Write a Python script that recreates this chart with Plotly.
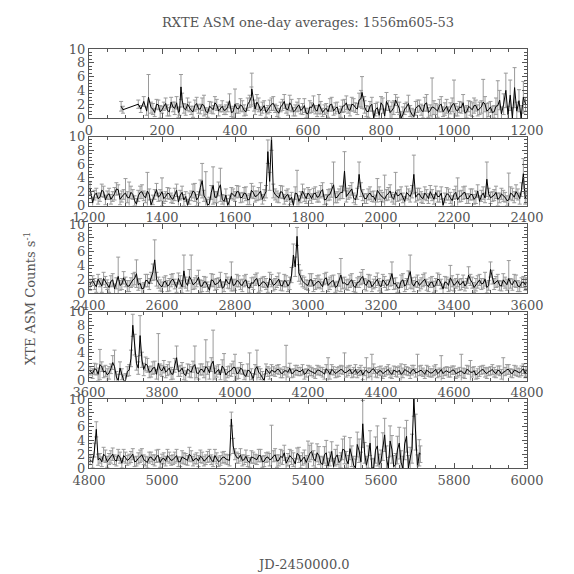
import plotly.graph_objects as go

# ---------------- data (JD-2450000, ASM rate, error) ----------------
# Panel 1
d1 = [88, 93, 135, 142, 150, 158, 163, 170, 180, 190, 200, 210, 220, 230, 240, 248, 252, 260, 270, 280,
      290, 300, 310, 320, 330, 340, 350, 360, 370, 380, 390, 400, 410, 420, 430, 440, 446, 452, 460, 470,
      480, 490, 500, 510, 520, 530, 540, 550, 560, 570, 580, 590, 600, 610, 620, 630, 640, 650, 660, 670,
      680, 690, 700, 710, 720, 730, 740, 748, 754, 760, 770, 780, 790, 800, 810, 820, 830, 840, 850, 860,
      870, 880, 890, 900, 910, 920, 930, 940, 950, 960, 970, 980, 990, 1000, 1010, 1020, 1030, 1040, 1050, 1060,
      1070, 1080, 1090, 1100, 1110, 1120, 1130, 1136, 1142, 1148, 1154, 1160, 1166, 1172, 1178, 1184, 1190, 1196]
r1 = [1.7, 1.2, 2.0, 1.3, 2.4, 1.0, 3.0, 1.5, 0.8, 1.9,
      1.2, 2.1, 0.9, 1.6, 2.2, 1.0, 4.5, 1.4, 2.0, 1.1,
      1.8, 1.3, 2.0, 1.0, 1.7, 1.2, 1.9, 1.4, 1.1, 1.6,
      0.8, 2.0, 1.3, 1.7, 0.9, 2.4, 4.2, 1.8, 2.3, 1.0,
      1.8, 1.2, 2.0, 1.4, 0.7, 1.9, 1.3, 2.2, 0.9, 1.6,
      1.1, 1.8, 0.6, 1.5, 1.2, 2.0, 0.8, 1.4, 1.9, 1.0,
      1.6, 0.9, 1.8, 1.3, 2.0, 1.5, 2.6, 3.7, 2.2, 1.0,
      1.7, 0.0, 1.5, 2.2, 0.3, 1.8, 1.1, 2.6, 1.4, 0.5,
      1.6, 1.0, 0.2, 1.7, 1.2, 2.0, 0.8, 1.6, 1.3, 1.8,
      0.9, 1.7, 1.4, 2.1, 1.0, 1.5, 0.7, 1.7, 1.2, 1.8,
      1.4, 2.3, 1.0, 1.6, 0.9, 1.8, 0.6, 2.0, 4.0, 0.5,
      3.3, 0.0, 4.4, 1.0, 2.5, 0.0, 3.0, 2.0]
e1 = [0.7, 0.5, 0.6, 0.5, 0.7, 0.6, 3.3, 0.8, 0.6, 0.7,
      0.5, 0.8, 0.6, 0.7, 0.9, 0.6, 1.8, 0.7, 0.9, 0.6,
      0.8, 0.6, 0.9, 0.5, 0.7, 0.6, 0.8, 0.5, 0.6, 0.7,
      0.6, 2.2, 0.6, 0.8, 0.5, 0.9, 2.3, 0.8, 1.1, 0.6,
      0.7, 0.6, 0.9, 0.6, 0.7, 0.8, 0.6, 1.1, 0.6, 0.7,
      0.5, 1.0, 0.8, 0.7, 0.6, 1.4, 0.6, 0.7, 0.9, 0.6,
      0.7, 0.8, 0.9, 0.6, 1.0, 0.7, 1.0, 2.3, 0.9, 0.8,
      0.7, 1.0, 0.8, 0.9, 1.0, 0.7, 1.2, 0.8, 0.9, 1.1,
      0.7, 0.8, 1.0, 0.9, 0.8, 1.0, 0.7, 4.2, 0.8, 0.9,
      0.7, 1.0, 0.8, 3.4, 0.7, 0.8, 0.9, 0.8, 1.0, 0.8,
      0.9, 3.3, 1.1, 0.8, 0.9, 3.6, 1.0, 1.5, 2.5, 1.2,
      2.2, 1.5, 2.9, 1.3, 1.6, 1.8, 2.3, 1.0]
d1b = [175, 185, 195, 205, 215, 225, 235, 245, 255, 265,
       275, 285, 295, 305, 315, 325, 335, 345, 355, 365,
       375, 385, 395, 405, 415, 425, 435, 445, 455, 465,
       475, 485, 495, 505, 515, 525, 535, 545, 555, 565,
       575, 585, 595, 605, 615, 625, 635, 645, 655, 665,
       675, 685, 695, 705, 715, 725, 735, 745, 755, 765,
       775, 785, 795, 805, 815, 825, 835, 845, 855, 865,
       875, 885, 895, 905, 915, 925, 935, 945, 955, 965,
       975, 985, 995, 1005, 1015, 1025, 1035, 1045, 1055, 1065,
       1075, 1085, 1095, 1105, 1115, 1125]
r1b = [1.3, 2.0, 0.9, 1.7, 1.1, 2.3, 1.4, 0.8, 2.6, 1.2,
       1.6, 0.9, 2.1, 1.3, 1.8, 0.7, 1.5, 2.2, 1.0, 1.7,
       1.2, 2.5, 0.9, 1.4, 1.9, 1.1, 2.0, 3.1, 1.3, 1.9,
       1.5, 0.8, 1.7, 2.1, 1.0, 1.6, 2.4, 1.2, 1.8, 1.1,
       1.9, 1.3, 0.7, 1.6, 2.1, 1.0, 1.5, 1.2, 0.9, 2.0,
       1.4, 0.6, 1.7, 2.2, 1.1, 1.9, 1.3, 2.8, 1.6, 0.9,
       2.0, 1.2, 0.4, 1.8, 2.4, 0.8, 1.5, 1.9, 0.0, 1.3,
       2.1, 0.5, 1.4, 1.8, 0.9, 2.2, 1.1, 1.5, 1.0, 2.0,
       1.3, 0.8, 1.9, 1.2, 1.6, 2.2, 0.9, 1.4, 1.8, 1.1,
       1.6, 2.0, 1.2, 0.8, 1.7, 2.6]
e1b = [0.8, 0.7, 0.9, 0.6, 0.8, 0.7, 0.9, 0.7, 1.0, 0.8,
       0.7, 0.8, 0.9, 0.7, 1.5, 0.6, 0.8, 0.9, 0.7, 0.8,
       0.7, 1.0, 0.8, 0.7, 0.9, 0.8, 0.9, 1.4, 0.8, 1.0,
       0.8, 0.7, 0.9, 1.0, 0.8, 0.7, 1.0, 0.8, 0.9, 0.8,
       0.9, 0.8, 0.7, 0.9, 1.1, 0.8, 0.9, 0.7, 0.8, 1.0,
       0.8, 0.7, 0.9, 1.0, 0.8, 0.9, 0.8, 1.2, 0.9, 0.8,
       1.0, 0.9, 0.8, 1.1, 1.3, 0.9, 1.0, 1.1, 0.9, 0.8,
       1.2, 0.9, 1.0, 0.8, 0.9, 1.2, 0.8, 1.0, 0.9, 1.1,
       0.9, 0.8, 1.0, 0.9, 0.8, 1.2, 0.9, 1.0, 1.1, 0.8,
       0.9, 1.1, 1.0, 0.9, 1.2, 1.4]

# Panel 2
d2 = [1203,
      1210, 1220, 1230, 1240, 1250, 1260, 1270, 1280, 1290, 1300,
      1310, 1320, 1330, 1340, 1350, 1360, 1370, 1380, 1390, 1400,
      1410, 1420, 1430, 1440, 1450, 1460, 1470, 1480, 1490, 1500,
      1510, 1520, 1530, 1540, 1550, 1560, 1570, 1580, 1590, 1600,
      1610, 1620, 1630, 1640, 1650, 1660, 1670, 1680, 1690, 1700,
      1710, 1720, 1730, 1740, 1750, 1760, 1770, 1780, 1790, 1800,
      1810, 1820, 1830, 1840, 1850, 1860, 1870, 1880, 1890, 1900,
      1910, 1920, 1930, 1940, 1950, 1960, 1970, 1980, 1990, 2000,
      2010, 2020, 2030, 2040, 2050, 2060, 2070, 2080, 2090, 2100,
      2110, 2120, 2130, 2140, 2150, 2160, 2170, 2180, 2190, 2200,
      2210, 2220, 2230, 2240, 2250, 2260, 2270, 2280, 2290, 2300,
      2310, 2320, 2330, 2340, 2350, 2360, 2370, 2380, 2390,
      2397]
r2 = [2.5,
      0.4, 1.8, 1.2, 2.0, 1.5, 0.9, 1.7, 2.3, 1.3, 1.8,
      1.1, 1.6, 0.2, 1.9, 1.4, 2.1, 0.1, 1.6, 1.2, 2.0,
      1.3, 1.7, 0.9, 2.2, 1.5, 0.8, 0.0, 1.4, 1.9, 1.2,
      3.6, 1.0, 0.3, 2.9, 1.2, 3.0, 0.6, 0.0, 1.8, 1.3,
      2.0, 1.2, 1.7, 0.9, 1.9, 1.4, 2.1, 1.5, 7.8, 10.0,
      1.6, 1.1, 1.9, 1.4, 0.8, 0.0, 1.7, 1.2, 1.5, 1.8,
      1.0, 1.8, 1.3, 2.3, 0.9, 1.6, 3.0, 1.2, 1.9, 5.0,
      1.7, 2.4, 0.8, 4.5, 1.5, 1.0, 1.8, 1.3, 2.2, 1.4,
      0.9, 1.7, 1.2, 2.0, 1.5, 1.1, 1.9, 1.3, 4.5, 1.6,
      1.2, 1.8, 1.0, 1.5, 1.9, 1.3, 0.0, 1.7, 1.1, 1.6,
      0.8, 1.4, 1.9, 1.0, 1.6, 1.2, 0.6, 1.8, 3.8, 1.1,
      1.5, 0.9, 1.7, 1.2, 0.8, 1.6, 2.0, 1.0, 4.6,
      1.3]
e2 = [0.9,
      0.8, 0.7, 0.6, 0.8, 0.6, 0.7, 0.9, 0.7, 0.8, 2.1,
      2.3, 0.7, 0.8, 0.9, 0.7, 2.7, 0.8, 0.7, 0.6, 2.0,
      0.7, 0.8, 0.6, 0.9, 0.7, 0.8, 0.9, 0.7, 1.3, 0.8,
      2.5, 3.9, 0.9, 2.7, 0.8, 2.4, 0.9, 1.0, 0.8, 0.7,
      0.8, 0.7, 1.0, 0.8, 0.9, 0.7, 1.2, 0.8, 1.7, 2.0,
      0.8, 0.7, 0.9, 0.8, 0.7, 0.9, 3.4, 0.8, 0.9, 0.8,
      0.7, 0.9, 0.8, 1.0, 0.7, 0.8, 3.3, 0.8, 0.9, 2.8,
      0.8, 0.9, 0.7, 1.8, 0.8, 0.7, 0.9, 0.8, 1.7, 0.8,
      3.5, 0.9, 0.7, 2.8, 0.8, 0.7, 0.9, 0.8, 2.8, 0.9,
      0.8, 0.9, 0.7, 0.8, 0.9, 0.8, 1.0, 0.9, 0.8, 0.7,
      3.2, 0.8, 0.9, 0.7, 0.8, 0.9, 0.8, 0.9, 2.5, 0.8,
      0.8, 0.9, 0.8, 0.7, 3.9, 0.9, 1.0, 0.8, 2.2,
      0.9]
d2b = [1215, 1225, 1235, 1245, 1255, 1265, 1275, 1285, 1295, 1305,
       1315, 1325, 1335, 1345, 1355, 1365, 1375, 1385, 1395, 1405,
       1415, 1425, 1435, 1445, 1455, 1465, 1475, 1485, 1495, 1505,
       1515, 1525, 1535, 1545, 1555, 1565, 1575, 1585, 1595, 1605,
       1615, 1625, 1635, 1645, 1655, 1665, 1675, 1685, 1695, 1705,
       1715, 1725, 1735, 1745, 1755, 1765, 1775, 1785, 1795, 1805,
       1815, 1825, 1835, 1845, 1855, 1865, 1875, 1885, 1895, 1905,
       1915, 1925, 1935, 1945, 1955, 1965, 1975, 1985, 1995, 2005,
       2015, 2025, 2035, 2045, 2055, 2065, 2075, 2085, 2095, 2105,
       2115, 2125, 2135, 2145, 2155, 2165, 2175, 2185, 2195, 2205,
       2215, 2225, 2235, 2245, 2255, 2265, 2275, 2285, 2295, 2305,
       2315, 2325, 2335, 2345, 2355, 2365, 2375, 2385, 2395]
r2b = [1.5, 1.0, 2.2, 0.8, 1.7, 1.3, 2.4, 0.9, 1.6, 1.2,
       1.9, 0.7, 1.4, 2.0, 1.1, 1.6, 0.8, 2.3, 1.5, 1.0,
       1.8, 1.1, 1.6, 0.5, 1.9, 1.3, 1.0, 2.1, 0.8, 2.6,
       1.4, 0.0, 1.9, 1.2, 2.4, 0.9, 1.5, 0.7, 1.6, 2.0,
       1.1, 1.8, 0.8, 2.2, 1.3, 1.7, 0.9, 2.0, 3.5, 2.1,
       1.3, 2.0, 0.9, 1.6, 1.2, 1.8, 0.6, 2.1, 1.0, 1.5,
       1.7, 1.2, 2.0, 0.8, 1.5, 2.2, 1.1, 1.6, 1.9, 1.3,
       2.0, 1.1, 1.7, 2.3, 1.0, 1.6, 1.3, 0.7, 1.8, 1.2,
       1.5, 2.1, 0.9, 1.4, 1.8, 0.6, 1.6, 2.0, 1.2, 1.7,
       1.0, 1.5, 2.0, 0.9, 1.3, 1.8, 1.1, 1.6, 0.7, 1.9,
       1.3, 1.8, 1.0, 1.6, 0.9, 2.1, 1.4, 1.1, 1.7, 1.3,
       1.9, 1.1, 1.4, 0.7, 1.8, 1.2, 1.6, 2.3, 1.0]
e2b = [0.7, 0.8, 0.9, 0.7, 0.8, 0.7, 0.9, 0.8, 0.7, 0.8,
       0.9, 0.7, 0.8, 1.0, 0.7, 0.8, 0.7, 0.9, 0.8, 0.7,
       0.8, 0.7, 0.9, 0.8, 0.9, 0.7, 0.8, 1.0, 0.8, 1.1,
       0.8, 0.9, 1.0, 0.8, 1.0, 0.7, 0.9, 0.8, 0.8, 0.9,
       0.7, 0.8, 0.7, 1.0, 0.8, 0.9, 0.7, 0.9, 1.3, 1.0,
       0.8, 0.9, 0.7, 0.8, 0.7, 0.9, 0.8, 1.0, 0.7, 0.8,
       0.8, 0.7, 0.9, 0.7, 0.8, 1.0, 0.7, 0.8, 0.9, 0.8,
       0.9, 0.7, 0.8, 1.0, 0.7, 0.8, 0.7, 0.8, 0.9, 0.7,
       0.8, 0.9, 0.7, 0.8, 0.9, 0.7, 0.8, 0.9, 0.7, 0.8,
       0.7, 0.8, 0.9, 0.7, 0.8, 0.9, 0.7, 0.8, 0.7, 0.9,
       0.8, 0.9, 0.7, 0.8, 0.7, 0.9, 0.8, 0.7, 0.8, 0.7,
       0.9, 0.7, 0.8, 0.7, 0.9, 0.8, 0.8, 1.0, 0.8]

# Panel 3
d3 = [2403,
      2410, 2420, 2430, 2440, 2450, 2460, 2470, 2480, 2490, 2500,
      2510, 2520, 2530, 2540, 2550, 2560, 2570, 2580, 2590, 2600,
      2610, 2620, 2630, 2640, 2650, 2660, 2670, 2680, 2690, 2700,
      2710, 2720, 2730, 2740, 2750, 2760, 2770, 2780, 2790, 2800,
      2810, 2820, 2830, 2840, 2850, 2860, 2870, 2880, 2890, 2900,
      2910, 2920, 2930, 2940, 2950, 2960, 2970, 2980, 2990, 3000,
      3010, 3020, 3030, 3040, 3050, 3060, 3070, 3080, 3090, 3100,
      3110, 3120, 3130, 3140, 3150, 3160, 3170, 3180, 3190, 3200,
      3210, 3220, 3230, 3240, 3250, 3260, 3270, 3280, 3290, 3300,
      3310, 3320, 3330, 3340, 3350, 3360, 3370, 3380, 3390, 3400,
      3410, 3420, 3430, 3440, 3450, 3460, 3470, 3480, 3490, 3500,
      3510, 3520, 3530, 3540, 3550, 3560, 3570, 3580, 3590,
      3597]
r3 = [1.2,
      1.8, 0.9, 1.5, 2.1, 1.2, 1.7, 0.6, 2.4, 1.3, 1.6,
      1.0, 1.9, 2.8, 1.4, 0.7, 1.8, 2.2, 4.8, 1.5, 0.9,
      1.7, 1.2, 2.0, 0.8, 1.6, 3.2, 1.1, 1.9, 1.4, 2.3,
      1.0, 1.6, 0.4, 1.8, 1.3, 2.0, 0.9, 1.5, 2.4, 1.2,
      1.7, 1.1, 1.9, 0.7, 1.4, 2.1, 1.2, 1.6, 0.8, 1.8,
      1.3, 2.0, 1.0, 1.7, 1.4, 5.5, 8.2, 2.3, 1.5, 1.1,
      1.9, 1.3, 1.7, 0.9, 2.2, 1.4, 1.8, 1.0, 2.6, 1.5,
      1.2, 1.9, 0.8, 1.6, 2.4, 1.1, 1.7, 1.3, 2.0, 0.9,
      1.6, 1.2, 2.8, 1.4, 0.7, 1.9, 1.3, 3.1, 1.0, 1.7,
      1.4, 2.0, 0.9, 1.6, 1.2, 1.9, 0.6, 1.5, 2.2, 1.1,
      1.8, 1.3, 1.0, 2.6, 1.5, 1.2, 1.9, 1.4, 0.8, 3.4,
      1.3, 1.8, 1.0, 1.5, 2.1, 1.2, 1.7, 0.9, 1.6,
      1.4]
e3 = [0.8,
      0.7, 0.8, 0.6, 0.9, 0.7, 0.8, 0.7, 2.8, 0.8, 0.7,
      0.8, 0.9, 2.0, 0.7, 0.8, 0.9, 0.8, 2.9, 0.8, 0.7,
      0.8, 0.9, 0.8, 0.7, 0.9, 2.3, 0.8, 3.6, 0.8, 1.0,
      0.8, 0.7, 0.8, 0.9, 0.8, 1.0, 0.7, 0.8, 2.1, 0.8,
      0.8, 0.9, 0.8, 0.7, 0.9, 0.8, 0.9, 0.8, 0.7, 0.9,
      0.8, 0.9, 0.7, 0.8, 0.9, 1.6, 1.3, 1.0, 0.8, 0.7,
      0.9, 0.8, 0.9, 0.7, 0.8, 0.9, 0.8, 0.7, 2.4, 0.8,
      0.8, 0.9, 0.7, 0.8, 1.0, 0.8, 0.9, 0.7, 0.9, 0.8,
      0.8, 0.7, 1.7, 0.8, 0.7, 0.9, 0.8, 2.4, 0.8, 0.9,
      0.8, 0.9, 0.7, 0.8, 0.9, 0.8, 0.7, 0.8, 1.8, 0.8,
      0.9, 0.8, 0.7, 1.2, 0.8, 0.9, 0.8, 0.7, 0.8, 1.1,
      0.8, 0.9, 0.7, 0.8, 2.6, 0.8, 0.9, 0.7, 0.8,
      0.8]
d3b = [2415, 2425, 2435, 2445, 2455, 2465, 2475, 2485, 2495, 2505,
       2515, 2525, 2535, 2545, 2555, 2565, 2575, 2585, 2595, 2605,
       2615, 2625, 2635, 2645, 2655, 2665, 2675, 2685, 2695, 2705,
       2715, 2725, 2735, 2745, 2755, 2765, 2775, 2785, 2795, 2805,
       2815, 2825, 2835, 2845, 2855, 2865, 2875, 2885, 2895, 2905,
       2915, 2925, 2935, 2945, 2955, 2965, 2975, 2985, 2995, 3005,
       3015, 3025, 3035, 3045, 3055, 3065, 3075, 3085, 3095, 3105,
       3115, 3125, 3135, 3145, 3155, 3165, 3175, 3185, 3195, 3205,
       3215, 3225, 3235, 3245, 3255, 3265, 3275, 3285, 3295, 3305,
       3315, 3325, 3335, 3345, 3355, 3365, 3375, 3385, 3395, 3405,
       3415, 3425, 3435, 3445, 3455, 3465, 3475, 3485, 3495, 3505,
       3515, 3525, 3535, 3545, 3555, 3565, 3575, 3585, 3595]
r3b = [1.3, 2.0, 1.0, 1.6, 0.8, 1.9, 1.4, 1.1, 2.2, 1.0,
       1.5, 2.1, 1.2, 0.6, 1.8, 1.3, 3.0, 2.0, 1.1, 1.6,
       1.0, 1.8, 1.3, 2.1, 0.9, 1.5, 2.4, 1.2, 1.7, 1.0,
       1.6, 0.9, 1.9, 1.2, 1.5, 0.7, 2.0, 1.3, 1.1, 1.8,
       1.2, 1.7, 0.8, 1.5, 1.9, 1.0, 1.6, 1.3, 2.1, 1.1,
       1.6, 1.1, 1.8, 1.0, 2.6, 3.8, 2.9, 1.7, 1.2, 1.9,
       1.0, 1.6, 1.3, 2.0, 1.1, 1.7, 0.8, 1.9, 1.4, 1.2,
       1.7, 1.0, 1.5, 2.1, 1.3, 1.8, 0.9, 1.6, 1.2, 1.9,
       1.1, 1.9, 1.3, 0.8, 1.7, 1.0, 2.2, 1.4, 1.6, 1.1,
       1.8, 1.2, 1.5, 0.9, 2.0, 1.3, 1.6, 1.1, 1.7, 1.4,
       1.2, 1.7, 1.4, 1.9, 0.8, 1.6, 1.3, 2.0, 1.1, 2.3,
       1.6, 1.1, 1.9, 1.2, 1.4, 1.8, 1.0, 1.5, 1.2]
e3b = [0.8, 0.7, 0.9, 0.8, 0.7, 0.9, 0.8, 0.7, 0.9, 0.8,
       0.7, 0.9, 0.8, 0.7, 0.9, 0.8, 1.2, 1.0, 0.8, 0.7,
       0.8, 0.9, 0.7, 0.8, 0.9, 0.8, 1.0, 0.7, 0.8, 0.9,
       0.8, 0.7, 0.9, 0.8, 0.7, 0.9, 0.8, 0.7, 0.8, 0.9,
       0.7, 0.8, 0.9, 0.7, 0.8, 0.9, 0.7, 0.8, 0.9, 0.8,
       0.8, 0.7, 0.9, 0.8, 1.1, 1.4, 1.2, 0.8, 0.7, 0.9,
       0.8, 0.9, 0.7, 0.8, 0.9, 0.8, 0.7, 0.9, 0.8, 0.7,
       0.9, 0.8, 0.7, 0.9, 0.8, 0.9, 0.7, 0.8, 0.9, 0.8,
       0.7, 0.9, 0.8, 0.7, 0.9, 0.8, 1.0, 0.8, 0.7, 0.8,
       0.9, 0.8, 0.7, 0.8, 0.9, 0.7, 0.8, 0.9, 0.8, 0.7,
       0.8, 0.9, 0.7, 0.8, 0.7, 0.9, 0.8, 1.0, 0.7, 1.0,
       0.8, 0.7, 0.9, 0.8, 0.7, 0.9, 0.8, 0.7, 0.8]

# Panel 4
d4 = [3603,
      3610, 3620, 3630, 3640, 3650, 3660, 3670, 3680, 3690, 3700,
      3710, 3720, 3730, 3740, 3750, 3760, 3770, 3780, 3790, 3800,
      3810, 3820, 3830, 3840, 3850, 3860, 3870, 3880, 3890, 3900,
      3910, 3920, 3930, 3940, 3950, 3960, 3970, 3980, 3990, 4000,
      4010, 4020, 4030, 4040, 4050, 4060, 4070, 4080, 4090, 4100,
      4110, 4120, 4130, 4140, 4150, 4160, 4170, 4180, 4190, 4200,
      4210, 4220, 4230, 4240, 4250, 4260, 4270, 4280, 4290, 4300,
      4310, 4320, 4330, 4340, 4350, 4360, 4370, 4380, 4390, 4400,
      4410, 4420, 4430, 4440, 4450, 4460, 4470, 4480, 4490, 4500,
      4510, 4520, 4530, 4540, 4550, 4560, 4570, 4580, 4590, 4600,
      4610, 4620, 4630, 4640, 4650, 4660, 4670, 4680, 4690, 4700,
      4710, 4720, 4730, 4740, 4750, 4760, 4770, 4780, 4790,
      4797]
r4 = [1.4,
      1.0, 1.6, 2.3, 1.2, 0.8, 1.7, 2.0, 0.0, 0.9, 0.0,
      1.5, 8.0, 2.5, 6.5, 1.6, 2.2, 1.3, 1.9, 2.5, 1.4,
      1.2, 1.8, 0.9, 3.3, 1.4, 1.0, 1.7, 1.2, 2.3, 1.0,
      1.6, 2.0, 1.1, 2.8, 1.3, 0.8, 1.7, 1.2, 1.5, 1.9,
      1.1, 1.6, 0.6, 1.4, 0.2, 2.0, 0.9, 0.0, 1.3, 1.5,
      1.2, 1.6, 1.0, 1.4, 1.8, 1.1, 1.5, 1.3, 0.9, 1.6,
      1.3, 1.0, 1.5, 1.2, 1.7, 0.9, 1.4, 1.2, 1.6, 1.1,
      1.4, 1.0, 1.6, 1.3, 0.8, 1.5, 1.2, 1.7, 1.0, 1.4,
      1.2, 1.6, 0.9, 1.3, 1.5, 1.1, 1.4, 1.0, 1.6, 1.2,
      1.5, 0.9, 1.3, 1.1, 1.6, 1.2, 1.0, 1.4, 1.2, 1.5,
      1.1, 1.4, 1.0, 1.5, 1.2, 0.8, 1.3, 1.6, 1.0, 1.4,
      1.2, 1.5, 0.9, 1.3, 1.6, 1.0, 1.4, 1.1, 1.7,
      1.3]
e4 = [0.6,
      0.7, 0.8, 2.2, 0.8, 0.9, 0.7, 2.4, 0.9, 0.8, 1.0,
      0.8, 1.6, 1.0, 2.9, 0.9, 1.0, 0.8, 0.9, 4.3, 0.8,
      0.8, 0.9, 0.7, 1.7, 0.8, 0.9, 0.7, 0.8, 2.7, 0.8,
      0.8, 3.9, 0.9, 4.5, 0.8, 0.7, 2.2, 0.8, 0.9, 1.9,
      0.8, 0.7, 0.8, 2.6, 0.8, 2.4, 0.8, 0.9, 0.7, 0.8,
      0.6, 0.7, 0.6, 3.7, 0.7, 0.6, 0.7, 0.6, 0.7, 0.6,
      0.6, 0.7, 0.6, 0.7, 0.6, 0.7, 0.6, 0.7, 0.6, 2.9,
      0.7, 0.6, 0.7, 0.6, 0.7, 1.8, 0.6, 0.7, 0.6, 0.7,
      0.6, 0.7, 0.6, 0.7, 0.6, 0.7, 0.6, 0.7, 0.6, 2.6,
      0.7, 0.6, 0.7, 0.6, 0.7, 0.6, 0.7, 0.6, 0.7, 0.6,
      0.6, 2.4, 0.7, 0.6, 0.7, 0.6, 0.7, 0.6, 0.7, 0.6,
      0.7, 0.6, 0.7, 0.6, 0.7, 0.6, 0.7, 0.6, 0.7,
      0.7]
d4b = [3615, 3625, 3635, 3645, 3655, 3665, 3675, 3685, 3695, 3705,
       3715, 3725, 3735, 3745, 3755, 3765, 3775, 3785, 3795, 3805,
       3815, 3825, 3835, 3845, 3855, 3865, 3875, 3885, 3895, 3905,
       3915, 3925, 3935, 3945, 3955, 3965, 3975, 3985, 3995, 4005,
       4015, 4025, 4035, 4045, 4055, 4065, 4075, 4085, 4095, 4105,
       4115, 4125, 4135, 4145, 4155, 4165, 4175, 4185, 4195, 4205,
       4215, 4225, 4235, 4245, 4255, 4265, 4275, 4285, 4295, 4305,
       4315, 4325, 4335, 4345, 4355, 4365, 4375, 4385, 4395, 4405,
       4415, 4425, 4435, 4445, 4455, 4465, 4475, 4485, 4495, 4505,
       4515, 4525, 4535, 4545, 4555, 4565, 4575, 4585, 4595, 4605,
       4615, 4625, 4635, 4645, 4655, 4665, 4675, 4685, 4695, 4705,
       4715, 4725, 4735, 4745, 4755, 4765, 4775, 4785, 4795]
r4b = [1.7, 0.9, 2.0, 1.4, 1.1, 2.6, 0.5, 1.8, 0.0, 1.3,
       3.2, 5.2, 1.8, 3.0, 2.4, 1.2, 1.8, 0.9, 1.6, 2.0,
       1.5, 1.0, 2.2, 1.3, 1.8, 0.7, 1.4, 2.0, 1.1, 1.6,
       1.2, 1.8, 2.3, 1.0, 1.6, 2.1, 0.8, 1.4, 1.9, 1.0,
       1.8, 0.8, 1.5, 0.9, 1.6, 1.2, 0.4, 1.7, 1.0, 1.4,
       1.6, 1.1, 1.4, 1.2, 1.0, 1.5, 1.3, 1.6, 1.1, 1.4,
       1.1, 1.5, 1.3, 0.9, 1.4, 1.6, 1.0, 1.3, 1.5, 1.2,
       1.6, 1.2, 1.0, 1.5, 1.3, 1.1, 1.6, 1.2, 1.4, 1.0,
       1.4, 1.1, 1.5, 1.2, 0.9, 1.6, 1.3, 1.5, 1.1, 1.4,
       1.2, 1.5, 1.1, 1.4, 1.0, 1.6, 1.3, 1.2, 1.5, 1.0,
       1.3, 1.1, 1.6, 1.2, 1.4, 1.0, 1.5, 1.2, 1.3, 1.6,
       1.0, 1.4, 1.2, 1.6, 1.1, 1.5, 1.2, 1.4, 1.0]
e4b = [0.8, 0.9, 0.7, 0.8, 0.9, 1.0, 0.8, 0.9, 0.8, 0.7,
       1.2, 1.5, 0.9, 1.1, 1.0, 0.8, 0.9, 0.7, 0.8, 0.9,
       0.8, 0.9, 1.0, 0.7, 0.8, 0.7, 0.9, 0.8, 0.7, 0.8,
       0.8, 0.9, 1.0, 0.8, 0.7, 0.9, 0.8, 0.7, 0.9, 0.8,
       0.8, 0.7, 0.9, 0.8, 0.7, 0.8, 0.9, 0.7, 0.8, 0.6,
       0.6, 0.7, 0.6, 0.7, 0.6, 0.7, 0.6, 0.7, 0.6, 0.7,
       0.6, 0.7, 0.6, 0.7, 1.9, 0.7, 0.6, 0.7, 0.6, 0.7,
       0.6, 0.7, 0.6, 0.7, 0.6, 0.7, 2.2, 0.7, 0.6, 0.7,
       0.6, 0.7, 0.6, 0.7, 1.5, 0.7, 0.6, 0.7, 0.6, 0.7,
       0.6, 0.7, 0.6, 0.7, 0.6, 2.0, 0.6, 0.7, 0.6, 0.7,
       0.6, 0.7, 0.6, 1.7, 0.6, 0.7, 0.6, 0.7, 0.6, 0.7,
       0.6, 0.7, 2.1, 0.7, 0.6, 0.7, 0.6, 0.7, 0.6]

# Panel 5
d5 = [4803,
      4810, 4820, 4830, 4840, 4850, 4860, 4870, 4880, 4890, 4900,
      4910, 4920, 4930, 4940, 4950, 4960, 4970, 4980, 4990, 5000,
      5010, 5020, 5030, 5040, 5050, 5060, 5070, 5080, 5090, 5100,
      5110, 5120, 5130, 5140, 5150, 5160, 5170, 5180, 5190, 5200,
      5210, 5220, 5230, 5240, 5250, 5260, 5270, 5280, 5290, 5300,
      5310, 5320, 5330, 5340, 5350, 5360, 5370, 5380, 5390, 5400,
      5410, 5420, 5430, 5440, 5450, 5460, 5470, 5480, 5490, 5500,
      5510, 5520, 5530, 5540, 5550, 5560, 5570, 5580, 5590, 5600,
      5610, 5620, 5630, 5640, 5650, 5660, 5670, 5680, 5690, 5700,
      5708]
r5 = [1.2,
      0.8, 5.6, 1.4, 2.0, 0.9, 1.6, 1.2, 1.9, 0.7, 1.5,
      1.3, 2.0, 1.0, 1.7, 1.2, 0.8, 1.6, 1.1, 1.8, 1.3,
      1.0, 1.5, 1.2, 1.8, 0.9, 1.4, 1.1, 1.7, 1.3, 1.0,
      1.5, 1.2, 1.8, 0.9, 1.4, 1.1, 1.6, 1.2, 7.1, 2.0,
      1.4, 1.1, 1.7, 0.8, 1.5, 1.2, 1.8, 1.0, 1.6, 1.3,
      1.9, 1.1, 1.5, 0.7, 1.8, 1.2, 2.1, 0.9, 1.6, 1.4,
      2.4, 1.0, 1.8, 0.5, 2.2, 1.3, 0.2, 1.9, 1.1, 2.6,
      0.6, 1.7, 0.0, 2.5, 6.4, 0.4, 3.6, 0.0, 3.2, 1.0,
      4.8, 0.0, 2.7, 0.5, 3.6, 0.0, 4.6, 1.2, 10.0, 0.0,
      2.0]
e5 = [0.7,
      0.8, 1.1, 0.7, 1.0, 0.8, 0.9, 0.7, 0.8, 0.7, 0.8,
      0.7, 0.8, 0.7, 0.9, 0.7, 0.8, 0.7, 0.8, 0.9, 0.7,
      0.7, 0.8, 0.7, 0.9, 0.7, 0.8, 0.7, 0.8, 0.7, 0.8,
      0.8, 0.7, 0.9, 0.7, 0.8, 0.7, 0.8, 0.7, 1.0, 0.8,
      0.7, 0.8, 0.9, 0.7, 0.8, 0.7, 0.9, 0.8, 0.7, 4.9,
      0.9, 0.8, 1.0, 0.8, 0.9, 1.0, 0.8, 0.9, 1.0, 2.5,
      1.2, 1.0, 1.3, 1.1, 1.8, 1.0, 1.2, 1.4, 1.1, 2.0,
      1.2, 1.5, 1.3, 1.7, 3.4, 1.3, 1.8, 1.4, 2.9, 1.6,
      2.4, 1.5, 2.0, 1.6, 2.3, 1.7, 2.3, 1.8, 2.5, 1.9,
      1.2]
d5b = [4815, 4825, 4835, 4845, 4855, 4865, 4875, 4885, 4895, 4905,
       4915, 4925, 4935, 4945, 4955, 4965, 4975, 4985, 4995, 5005,
       5015, 5025, 5035, 5045, 5055, 5065, 5075, 5085, 5095, 5105,
       5115, 5125, 5135, 5145, 5155, 5165, 5175, 5185, 5195, 5205,
       5215, 5225, 5235, 5245, 5255, 5265, 5275, 5285, 5295, 5305,
       5315, 5325, 5335, 5345, 5355, 5365, 5375, 5385, 5395, 5405,
       5415, 5425, 5435, 5445, 5455, 5465, 5475, 5485, 5495, 5505,
       5515, 5525, 5535, 5545, 5555, 5565, 5575, 5585, 5595, 5605,
       5615, 5625, 5635, 5645, 5655, 5665, 5675, 5685, 5695, 5705]
r5b = [2.6, 1.2, 0.9, 1.7, 1.3, 2.0, 1.0, 1.5, 1.8, 1.1,
       1.6, 0.9, 1.4, 1.9, 1.0, 1.5, 1.2, 1.7, 0.8, 1.4,
       1.8, 1.1, 1.5, 0.9, 1.6, 1.3, 2.0, 1.0, 1.4, 1.7,
       1.0, 1.6, 1.2, 1.8, 0.9, 1.5, 1.3, 1.1, 3.2, 1.5,
       1.9, 1.2, 1.0, 1.6, 1.3, 1.8, 0.9, 1.5, 1.2, 1.7,
       1.0, 1.7, 2.2, 1.2, 1.5, 0.6, 1.9, 1.3, 0.8, 2.1,
       1.4, 2.2, 0.7, 1.9, 0.3, 2.4, 1.5, 0.8, 2.7, 1.2,
       2.8, 0.4, 3.4, 0.9, 2.2, 1.6, 0.0, 2.6, 0.5, 3.1,
       1.4, 3.9, 0.2, 2.6, 0.8, 3.5, 0.0, 2.8, 5.2, 2.2]
e5b = [1.0, 0.8, 0.7, 0.9, 0.8, 0.9, 0.7, 0.8, 0.9, 0.7,
       0.8, 0.7, 0.8, 0.9, 0.7, 0.8, 0.7, 0.9, 0.7, 0.8,
       0.9, 0.7, 0.8, 0.7, 0.9, 0.8, 1.0, 0.7, 0.8, 0.9,
       0.7, 0.8, 0.7, 0.9, 0.7, 0.8, 0.7, 0.8, 1.1, 0.8,
       0.9, 0.7, 0.8, 0.9, 0.7, 0.9, 0.8, 0.7, 0.9, 0.8,
       0.9, 1.0, 1.1, 0.9, 1.0, 0.8, 1.1, 0.9, 1.0, 1.2,
       1.1, 1.3, 1.0, 1.2, 1.1, 1.4, 1.2, 1.0, 1.5, 1.2,
       1.6, 1.3, 1.8, 1.4, 1.5, 1.6, 1.3, 1.9, 1.5, 2.0,
       1.8, 2.2, 1.6, 2.0, 1.7, 2.3, 1.8, 2.1, 2.6, 1.9]

panel_starts = [0, 1200, 2400, 3600, 4800]
panel_span = 1200
y_range = [0, 10]
title_text = "RXTE ASM one-day averages: 1556m605-53"
xlabel_text = "JD-2450000.0"
ylabel_text = "XTE ASM Counts s<sup>-1</sup>"

series = [
    (d1 + d1b, r1 + r1b, e1 + e1b),
    (d2 + d2b, r2 + r2b, e2 + e2b),
    (d3 + d3b, r3 + r3b, e3 + e3b),
    (d4 + d4b, r4 + r4b, e4 + e4b),
    (d5 + d5b, r5 + r5b, e5 + e5b),
]

# ---------------- layout geometry ----------------
# The page body adds an 8px margin, so the figure is 566px and offsets are shifted by 8px.
W = H = 566
L, R, T, B = 81, 47, 41, 106
plot_w = W - L - R            # 438
plot_h = H - T - B            # 419
panel_h = 69
panel_step = 87.5

FONT = "DejaVu Serif"
TXT = "#555555"
ERRC = "#9a9a9a"
AXC = "#555555"


def px_y(ypx):
    return (H - B - ypx) / plot_h


def px_x(xpx):
    return (xpx - L) / plot_w


fig = go.Figure()
layout = dict(
    width=W, height=H,
    margin=dict(l=L, r=R, t=T, b=B),
    paper_bgcolor="white", plot_bgcolor="white",
    showlegend=False,
    font=dict(family=FONT, size=13, color=TXT),
)

for i, ((d, r, e), x0) in enumerate(zip(series, panel_starts)):
    n = min(len(d), len(r), len(e))
    pts = sorted(zip(d[:n], r[:n], e[:n]))
    dd = [p[0] for p in pts]
    rr = [p[1] for p in pts]
    ee = [p[2] for p in pts]
    k = "" if i == 0 else str(i + 1)
    xa, ya = "x" + k, "y" + k
    fig.add_trace(go.Scatter(
        x=dd, y=rr, mode="markers", xaxis=xa, yaxis=ya,
        marker=dict(size=1, color=ERRC),
        error_y=dict(type="data", array=ee, visible=True, color=ERRC, thickness=1, width=2),
        hoverinfo="skip"))
    fig.add_trace(go.Scatter(
        x=dd, y=rr, mode="lines", xaxis=xa, yaxis=ya,
        line=dict(color="black", width=1), hoverinfo="skip"))

    top_px = T + panel_step * i
    bot_px = top_px + panel_h
    dom = [px_y(bot_px), px_y(top_px)]
    layout["xaxis" + k] = dict(
        domain=[0, 1], anchor=ya, range=[x0, x0 + panel_span],
        tick0=0, dtick=200, ticks="inside", ticklen=5, tickcolor=AXC,
        showline=True, linecolor=AXC, linewidth=1, mirror="ticks",
        showgrid=False, zeroline=False,
        tickfont=dict(family=FONT, size=13, color=TXT),
        minor=dict(dtick=50, ticks="inside", ticklen=3, tickcolor=AXC, showgrid=False),
    )
    layout["yaxis" + k] = dict(
        domain=dom, anchor=xa, range=y_range,
        tick0=0, dtick=2, ticks="inside", ticklen=5, tickcolor=AXC,
        showline=True, linecolor=AXC, linewidth=1, mirror="ticks",
        showgrid=False, zeroline=False,
        tickfont=dict(family=FONT, size=13, color=TXT),
        minor=dict(dtick=0.5, ticks="inside", ticklen=3, tickcolor=AXC, showgrid=False),
    )

layout["annotations"] = [
    dict(text=title_text, xref="paper", yref="paper", x=0.5, y=px_y(14),
         xanchor="center", yanchor="middle", showarrow=False,
         font=dict(family=FONT, size=13, color=TXT)),
    dict(text=xlabel_text, xref="paper", yref="paper", x=px_x(295),
         y=px_y(556), xanchor="center", yanchor="middle", showarrow=False,
         font=dict(family=FONT, size=13, color=TXT)),
    dict(text=ylabel_text, xref="paper", yref="paper", x=px_x(22),
         y=px_y(291), xanchor="center", yanchor="middle", showarrow=False,
         textangle=-90, font=dict(family=FONT, size=13, color=TXT)),
]

fig.update_layout(**layout)
fig.write_html("out.html")
